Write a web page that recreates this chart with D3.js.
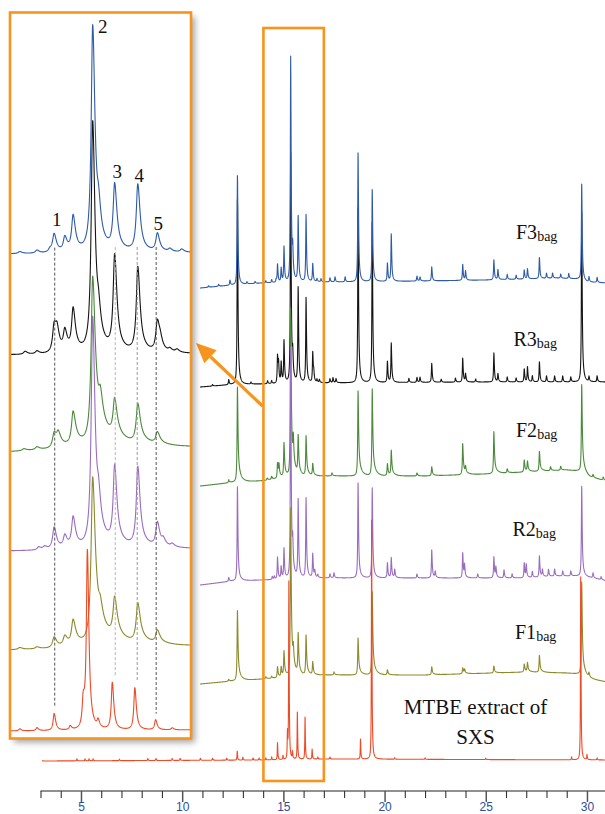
<!DOCTYPE html>
<html><head><meta charset="utf-8">
<script src="https://cdn.jsdelivr.net/npm/d3@7"></script>
<style>html,body{margin:0;padding:0;background:#fff;}svg{display:block;}</style>
</head><body>
<svg id="c" width="605" height="814"></svg>
<script>
// ---------------- DATA ----------------
// retention time ticks (min)
const timeTicks = d3.range(3, 31);
const tickLabels = [5, 10, 15, 20, 25, 30];

// baseline drift anchors [time, intensity]
const f3Baseline = [[10.9,0],[12.5,3],[14,5],[16,6],[18,6],[22,7],[25,8],[27,9],[28.5,10],[29.6,9],[30,6],[31,5]];
const r3Baseline = [[10.9,0],[12.5,2.5],[14,3],[17,4],[25,5],[31,5]];
const f2Baseline = [[10.9,0],[12.5,3.6],[14,5.3],[15,8],[17,10],[22,10],[25,12],[27,14],[29,16],[29.6,15],[30.1,9],[31,5]];
const r2Baseline = [[10.9,0],[12.5,4],[14,5],[17,7],[27,7],[28.5,9],[29.6,9],[30.3,7],[31,4]];
const f1Baseline = [[10.9,0],[12.5,3],[14,5],[17,9],[22,9],[27,12],[29,11],[29.6,10],[30.2,5],[31,2]];
const mtbeBaseline = [[3,0],[14,1],[17,2],[31,1]];

// peaks [retention time, height]
const f3Peaks = [[11.3,1.5],[11.8,2],[12.36,5],[12.73,109],[13.2,2],[13.6,2],[14.13,2],[14.42,3],[14.64,3],
  [14.71,18],[14.89,14],[15.03,35],[15.36,225],[15.46,25],[15.73,65],[16.12,67],[16.45,18],[16.66,3],[16.86,3],
  [17.3,4],[17.55,5],[18.05,5],[18.69,129],[19.39,92],[20.14,18],[20.33,47],[21.6,5],[21.75,4],[22.33,14],
  [23.86,16],[24.0,9],[25.40,20],[25.6,10],[26.06,5],[26.5,4],[26.9,9],[27.06,10],[27.65,21],[28.0,5],[28.3,5],
  [28.7,4],[29.1,5],[29.74,96],[30.1,5],[30.5,5]];
const r3Peaks = [[11.5,1.5],[12.3,5],[12.73,185],[13.4,2],[14.22,3],[14.42,3],[14.71,27],[14.76,18],[14.89,20],
  [15.03,42],[15.36,230],[15.46,20],[15.73,95],[16.12,85],[16.45,30],[16.5,8],[16.66,3],[16.78,3],[17.3,4],
  [17.45,5],[17.6,4],[18.69,175],[19.39,160],[20.14,21],[20.33,39],[21.2,4],[21.6,5],[21.75,5],[22.33,19],
  [22.8,3],[23.5,4],[23.86,24],[24.0,8],[24.5,3],[25.40,29],[25.6,8],[26.06,5],[26.5,4],[26.9,13],[27.06,15],
  [27.3,6],[27.65,20],[28.0,6],[28.4,6],[28.8,6],[29.2,5],[29.74,170],[30.1,5],[30.5,6]];
const f2Peaks = [[12.3,3],[12.73,95],[14.2,2],[14.42,3],[14.71,15],[14.78,12],[15.03,34],[15.36,168],[15.49,25],
  [15.73,38],[16.12,40],[16.45,12],[17.4,3],[18.69,85],[19.39,87],[20.14,12],[20.33,25],[21.6,3],[22.33,9],
  [23.86,31],[24.0,6],[25.40,42],[26.06,4],[26.9,12],[27.06,10],[27.65,20],[28.2,4],[28.7,4],[29.74,88],
  [30.3,3],[30.8,3]];
const r2Peaks = [[12.3,4],[12.73,94],[14.45,3],[14.55,3],[14.71,22],[14.89,12],[15.03,30],[15.36,230],[15.46,25],
  [15.73,78],[16.12,80],[16.45,24],[16.55,6],[16.7,3],[17.3,4],[17.5,5],[18.69,95],[19.39,90],[20.14,15],
  [20.33,20],[20.5,8],[21.6,4],[22.33,28],[22.5,6],[23.86,25],[23.95,12],[24.6,4],[25.40,21],[25.5,10],
  [25.9,8],[26.3,4],[26.9,15],[27.0,13],[27.3,6],[27.65,21],[27.8,7],[28.1,7],[28.4,7],[28.8,5],[29.2,5],
  [29.74,90],[30.3,5],[30.7,3]];
const f1Peaks = [[12.3,2],[12.73,70],[14.13,2],[14.42,2],[14.71,11],[14.89,10],[15.03,25],[15.36,168],[15.49,15],
  [15.73,40],[16.12,40],[16.45,13],[17.5,3],[18.69,37],[19.39,83],[20.14,5],[22.33,8],[23.86,6],[23.95,4],
  [25.40,7],[26.9,8],[27.06,9],[27.65,17],[29.74,93],[30.1,4]];
const mtbePeaks = [[3.05,2],[4.8,2],[5.2,2],[5.4,2],[5.6,2],[6.9,1.5],[8.3,2],[8.7,2],[9.5,2],[9.9,2],[10.9,2],
  [11.5,2],[12.2,2],[12.72,9],[13.0,3],[13.5,2],[13.8,2],[14.13,2],[14.42,3],[14.71,17],[14.98,4],[15.20,26],
  [15.27,177],[15.45,7],[15.69,47],[16.07,42],[16.42,10],[16.7,2],[17.3,2],[18.81,20],[19.36,239],[20.5,1.5],
  [22,1.5],[25,1.5],[29.24,3],[29.69,183],[30.0,5],[30.5,2]];

const traceLabels = ["F3", "R3", "F2", "R2", "F1"];
const traceSub = "bag";
const extractLabel = ["MTBE extract of", "SXS"];
const peakNumbers = ["1", "2", "3", "4", "5"];
const peakNumberTimes = [14.72, 15.36, 15.74, 16.11, 16.43];
const markerTimes = [14.72, 15.74, 16.11, 16.43];
const insetRange = [14, 17];

// ---------------- LAYOUT / STYLE ----------------
const svg = d3.select("#c");
const x = d3.scaleLinear().domain([3, 31]).range([40.5, 607.2]);
const xi = d3.scaleLinear().domain(insetRange).range([12, 190]);
const y = d3.scaleLinear().domain([0, 250]).range([0, 250]); // intensity -> pixel height

const traces = [
  {base: f3Baseline, peaks: f3Peaks, color: "#2d5ba9", y0: 288, tStart: 10.88, order: 1, p: {wL:.03, wR:.045, a:.05, tau:.15}},
  {base: r3Baseline, peaks: r3Peaks, color: "#151515", y0: 387, tStart: 10.88, order: 0, p: {wL:.03, wR:.045, a:.06, tau:.15}},
  {base: f2Baseline, peaks: f2Peaks, color: "#4b8a3b", y0: 486, tStart: 10.88, order: 2, p: {wL:.032, wR:.05, a:.18, tau:.25}},
  {base: r2Baseline, peaks: r2Peaks, color: "#9a6cc0", y0: 585, tStart: 10.88, order: 3, p: {wL:.03, wR:.045, a:.08, tau:.2}},
  {base: f1Baseline, peaks: f1Peaks, color: "#8b8a2c", y0: 684, tStart: 10.88, order: 4, p: {wL:.032, wR:.05, a:.18, tau:.25}},
  {base: mtbeBaseline, peaks: mtbePeaks, color: "#ef4a26", y0: 761, tStart: 3.08, order: 5, p: {wL:.02, wR:.03, a:0, tau:.1}}
];
const drawOrder = traces.slice().sort((a, b) => a.order - b.order);

function shape(d, h, p, k) {
  if (d <= 0) return h / (1 + (d / (p.wL * k)) ** 2);
  return h * ((1 - p.a) / (1 + (d / (p.wR * k)) ** 2) + p.a * Math.exp(-d / (p.tau * k)));
}
function valueAt(tr, t, k = 1) {
  let v = tr.baseFn(t);
  for (const [t0, h] of tr.peaks) {
    const d = t - t0;
    if (d > -2 && d < 3) v += shape(d, h, tr.p, k);
  }
  return v;
}
function samples(tr, t0, t1, step, k) {
  const ts = d3.range(t0, t1 + 1e-9, step);
  tr.peaks.forEach(([tp]) => { if (tp >= t0 && tp <= t1) ts.push(tp); });
  ts.sort((a, b) => a - b);
  return ts.map(t => ({t, v: valueAt(tr, t, k)}));
}
traces.forEach(tr => {
  tr.baseFn = d3.scaleLinear().domain(tr.base.map(d => d[0])).range(tr.base.map(d => d[1])).clamp(true);
});

const defs = svg.append("defs");
const sh = defs.append("filter").attr("id", "shadow").attr("x", "-10%").attr("y", "-5%").attr("width", "130%").attr("height", "115%");
sh.append("feDropShadow").attr("dx", 4).attr("dy", 4).attr("stdDeviation", 3).attr("flood-color", "#000").attr("flood-opacity", 0.35);
defs.append("clipPath").attr("id", "insetClip").append("rect").attr("x", 11).attr("y", 13).attr("width", 179).attr("height", 725);

// ---------- main traces (narrower rendering of the same peaks) ----------
const main = svg.append("g");
drawOrder.forEach(tr => {
  const data = samples(tr, tr.tStart, 31, 0.008, 0.6);
  main.append("path").datum(data)
    .attr("fill", "none").attr("stroke", tr.color).attr("stroke-width", 1.1).attr("stroke-linejoin", "round")
    .attr("d", d3.line().x(d => x(d.t)).y(d => tr.y0 - y(d.v)));
});

// trace labels
const serif = "'Liberation Serif','Times New Roman',serif";
const labelPos = [[516, 238.5], [513.5, 345.6], [516, 436.8], [512.5, 535.7], [515, 638.8]];
traceLabels.forEach((lab, i) => {
  const t = svg.append("text").attr("x", labelPos[i][0]).attr("y", labelPos[i][1])
    .attr("font-family", serif).attr("font-size", 20).attr("fill", "#111");
  t.append("tspan").text(lab);
  t.append("tspan").attr("font-size", 14).attr("dy", 2).text(traceSub);
});
extractLabel.forEach((s, i) => {
  svg.append("text").attr("x", 475.5).attr("y", i === 0 ? 713.5 : 743.5).attr("text-anchor", "middle")
    .attr("font-family", serif).attr("font-size", 21).attr("fill", "#111").text(s);
});

// orange selection box in main chart
svg.append("rect").attr("x", x(insetRange[0]) + 0.3).attr("y", 28).attr("width", x(insetRange[1]) - x(insetRange[0]) - 0.3).attr("height", 753)
  .attr("fill", "none").attr("stroke", "#f7941d").attr("stroke-width", 2.6);

// arrow
const ax0 = 262.5, ay0 = 406, ax1 = 196, ay1 = 343;
const ang = Math.atan2(ay1 - ay0, ax1 - ax0);
const hl = 20, hw = 9;
const bx = ax1 - hl * Math.cos(ang), by = ay1 - hl * Math.sin(ang);
svg.append("line").attr("x1", ax0).attr("y1", ay0).attr("x2", bx).attr("y2", by)
  .attr("stroke", "#f7941d").attr("stroke-width", 3.2);
svg.append("path").attr("fill", "#f7941d")
  .attr("d", `M${ax1},${ay1}L${bx + hw * Math.sin(ang)},${by - hw * Math.cos(ang)}L${bx - hw * Math.sin(ang)},${by + hw * Math.cos(ang)}Z`);

// ---------- inset ----------
const insetShift = -29;
svg.append("rect").attr("x", 10).attr("y", 12.5).attr("width", 181).attr("height", 726)
  .attr("fill", "#fff").attr("filter", "url(#shadow)");
const ins = svg.append("g").attr("clip-path", "url(#insetClip)");
drawOrder.forEach(tr => {
  const data = samples(tr, insetRange[0] - 0.05, insetRange[1] + 0.05, 0.002, 1);
  tr.insetData = data;
  ins.append("path").datum(data)
    .attr("fill", "none").attr("stroke", tr.color).attr("stroke-width", 1.1).attr("stroke-linejoin", "round")
    .attr("d", d3.line().x(d => xi(d.t)).y(d => tr.y0 + insetShift - y(d.v)));
});
// dashed marker lines
const blue = traces[0], red = traces[5];
const markerColors = ["#555", "#b5b5b5", "#999", "#555"];
markerTimes.forEach((mt, i) => {
  const redTop = d3.max(red.insetData.filter(d => Math.abs(d.t - mt) < 0.08), d => d.v);
  const yTop = blue.y0 + insetShift - y(blue.baseFn(mt)) - 6;
  const yBot = red.y0 + insetShift - y(redTop) - 6;
  ins.append("line").attr("x1", xi(mt)).attr("x2", xi(mt)).attr("y1", yTop).attr("y2", yBot)
    .attr("stroke", markerColors[i]).attr("stroke-width", 1).attr("stroke-dasharray", "3,2");
});
// peak numbers
peakNumbers.forEach((n, i) => {
  const t = peakNumberTimes[i];
  const top = blue.y0 + insetShift - y(valueAt(blue, t));
  const isMain = i === 1;
  svg.append("text").attr("x", xi(t) + (isMain ? 10 : 2)).attr("y", isMain ? top + 8 : top - 8)
    .attr("text-anchor", "middle").attr("font-family", serif).attr("font-size", 19).attr("fill", "#111").text(n);
});
svg.append("rect").attr("x", 10).attr("y", 12.5).attr("width", 181).attr("height", 726)
  .attr("fill", "none").attr("stroke", "#f7941d").attr("stroke-width", 2.6);

// ---------- axis ----------
const axisG = svg.append("g").attr("transform", "translate(0,791)")
  .call(d3.axisBottom(x).tickValues(timeTicks).tickSize(7).tickSizeOuter(0).tickPadding(4)
    .tickFormat(d => tickLabels.includes(d) ? String(d) : ""));
axisG.select(".domain").attr("stroke", "#222").attr("stroke-width", 1.2).attr("d", `M${x(3)},0H605`);
axisG.selectAll(".tick line").attr("stroke", "#333").attr("stroke-width", 1.1);
axisG.selectAll(".tick").filter(d => tickLabels.includes(d)).select("line").attr("y2", 11).attr("stroke", "#555").attr("stroke-width", 1.5);
axisG.selectAll(".tick text").attr("font-family", "'Liberation Sans',Arial,sans-serif").attr("font-size", 12).attr("fill", "#2e4d9c");
</script>
</body></html>
